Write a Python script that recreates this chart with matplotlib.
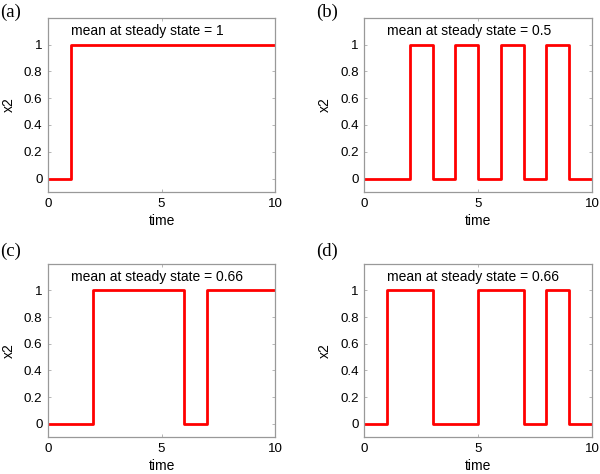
import matplotlib
matplotlib.use("Agg")
import matplotlib.pyplot as plt

# switch times and levels (step, held until next switch)
t_a = [0, 1, 10]
x_a = [0, 1, 1]
t_b = [0, 2, 3, 4, 5, 6, 7, 8, 9, 10]
x_b = [0, 1, 0, 1, 0, 1, 0, 1, 0, 0]
t_c = [0, 2, 6, 7, 10]
x_c = [0, 1, 0, 1, 1]
t_d = [0, 1, 3, 5, 7, 8, 9, 10]
x_d = [0, 1, 0, 1, 0, 1, 0, 0]

panel_labels = ["(a)", "(b)", "(c)", "(d)"]
mean_texts = ["mean at steady state = 1", "mean at steady state = 0.5",
              "mean at steady state = 0.66", "mean at steady state = 0.66"]
x_ticks = [0, 5, 10]
y_ticks = [0, 0.2, 0.4, 0.6, 0.8, 1]
y_tick_labels = ["0", "0.2", "0.4", "0.6", "0.8", "1"]

plt.rcParams['font.family'] = ['Liberation Sans', 'DejaVu Sans']

fig = plt.figure(figsize=(6, 4.74), dpi=100)

W = 600.0
H = 474.0
boxes = [
    (48, 17.7, 275.3, 192),
    (364.3, 17.7, 592, 192),
    (48, 263.7, 275.3, 437),
    (364.3, 263.7, 592, 437),
]
label_pos = [(0, 12), (316, 12), (0, 251), (316, 251)]
series = [(t_a, x_a), (t_b, x_b), (t_c, x_c), (t_d, x_d)]

for i, ((l, t, r, b), (ts, xs)) in enumerate(zip(boxes, series)):
    ax = fig.add_axes([l / W, 1 - b / H, (r - l) / W, (b - t) / H])
    ax.step(ts, xs, where='post', color='#ff0000', lw=2.0)
    ax.set_xlim(0, 10)
    ax.set_ylim(-0.1, 1.2)
    ax.set_xticks(x_ticks)
    ax.set_yticks(y_ticks)
    ax.set_yticklabels(y_tick_labels)
    ax.tick_params(direction='in', length=2.5, width=0.6, color='#aaaaaa',
                   labelsize=9.6, labelcolor='black', top=True, right=True, pad=4)
    for s in ax.spines.values():
        s.set_color('#999999')
        s.set_linewidth(0.9)
    ax.set_xlabel('time', fontsize=10, labelpad=3)
    ax.set_ylabel('x2', fontsize=10, labelpad=6)
    ax.text(1, 1.1, mean_texts[i], fontsize=10, ha='left', va='center')
    lx, ly = label_pos[i]
    fig.text(lx / W, 1 - ly / H, panel_labels[i], fontsize=13.5,
             family=['Liberation Serif', 'DejaVu Serif'], ha='left', va='center')

fig.savefig('out.png', dpi=100)
